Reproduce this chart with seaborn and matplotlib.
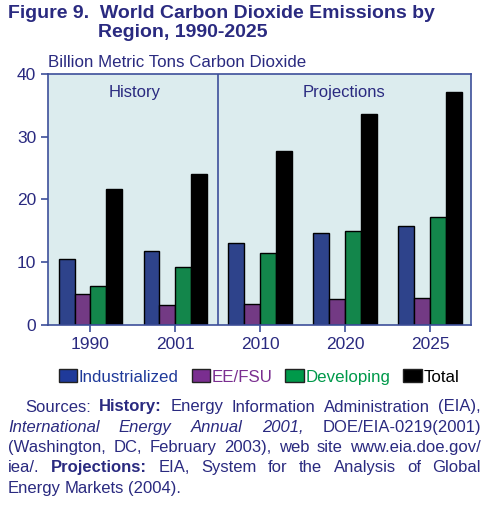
import pandas as pd
import matplotlib
matplotlib.use("Agg")
import matplotlib.pyplot as plt
import seaborn as sns
from matplotlib.patches import Patch

# data (billion metric tons CO2)
years = ["1990", "2001", "2010", "2020", "2025"]
regions = ["Industrialized", "EE/FSU", "Developing", "Total"]
industrialized = [10.5, 11.8, 13.0, 14.6, 15.7]
ee_fsu = [4.9, 3.2, 3.4, 4.1, 4.3]
developing = [6.2, 9.2, 11.4, 15.0, 17.2]
total = [21.6, 24.0, 27.8, 33.6, 37.2]
yticks = [0, 10, 20, 30, 40]

navy = "#2a2a80"
axis_blue = "#3d4f9a"
colors = ["#1f3a9a", "#7a2e90", "#00994a", "#000000"]

df = pd.DataFrame({"year": years * 4,
                   "region": sum([[r] * len(years) for r in regions], []),
                   "value": industrialized + ee_fsu + developing + total})

sns.set_style("white")
plt.rcParams["font.family"] = ["Liberation Sans", "DejaVu Sans"]

fig = plt.figure(figsize=(5.0, 5.13), dpi=100)
ax = fig.add_axes([0.096, 0.3665, 0.846, 0.4893])
ax.set_facecolor("#dcecee")

sns.barplot(data=df, x="year", y="value", hue="region", palette=colors,
            width=0.75, edgecolor="black", linewidth=1, ax=ax, legend=False)

ax.set_xlim(-0.5, 4.48)
ax.set_ylim(0, 40)
ax.set_yticks(yticks)
ax.axvline(1.5, color=axis_blue, lw=1.2)
ax.set_xlabel("")
ax.set_ylabel("")
for s in ax.spines.values():
    s.set_color(axis_blue)
    s.set_linewidth(1.2)
ax.tick_params(axis="both", colors=axis_blue, labelcolor=navy, labelsize=12.5,
               direction="out", length=5, width=1.2, left=True, bottom=True)

ax.text(0.52, 37.0, "History", ha="center", va="center", color=navy, fontsize=12)
ax.text(2.98, 37.0, "Projections", ha="center", va="center", color=navy, fontsize=12)

# title & unit label
fig.text(0.016, 0.974, "Figure 9.  World Carbon Dioxide Emissions by",
         fontsize=14, fontweight="bold", color=navy, va="center")
fig.text(0.196, 0.936, "Region, 1990-2025",
         fontsize=14, fontweight="bold", color=navy, va="center")
fig.text(0.096, 0.879, "Billion Metric Tons Carbon Dioxide",
         fontsize=12.2, color=navy, va="center")

# legend
handles = [Patch(facecolor=c, edgecolor="#222222") for c in colors]
leg = fig.legend(handles, regions, loc="center", bbox_to_anchor=(0.518, 0.265),
                 ncol=4, frameon=False, fontsize=12.2, handlelength=1.1,
                 handleheight=0.75, handletextpad=0.1, columnspacing=0.75)
for t, c in zip(leg.get_texts(), colors):
    t.set_color(c)

# sources, justified lines
renderer = fig.canvas.get_renderer()
W, H = fig.get_size_inches() * fig.dpi


def justify(tokens, x0, x1, y, last=False):
    arts = []
    for word, weight, style in tokens:
        t = fig.text(0, y / H, word, fontsize=12, color=navy, va="center",
                     fontweight=weight, fontstyle=style)
        arts.append(t)
    widths = [a.get_window_extent(renderer).width for a in arts]
    if last or len(arts) == 1:
        gap = 4.0
    else:
        gap = (x1 - x0 - sum(widths)) / (len(arts) - 1)
    x = x0
    for a, w in zip(arts, widths):
        a.set_x(x / W)
        x += w + gap


n, b, i = "normal", "bold", "italic"
lines = [
    (25, [("Sources:", n, n), ("History:", b, n), ("Energy", n, n), ("Information", n, n),
          ("Administration", n, n), ("(EIA),", n, n)]),
    (8, [("International", n, i), ("Energy", n, i), ("Annual", n, i), ("2001,", n, i),
         ("DOE/EIA-0219(2001)", n, n)]),
    (8, [("(Washington,", n, n), ("DC,", n, n), ("February", n, n), ("2003),", n, n),
         ("web", n, n), ("site", n, n), ("www.eia.doe.gov/", n, n)]),
    (8, [("iea/.", n, n), ("Projections:", b, n), ("EIA,", n, n), ("System", n, n),
         ("for", n, n), ("the", n, n), ("Analysis", n, n), ("of", n, n), ("Global", n, n)]),
    (8, [("Energy", n, n), ("Markets", n, n), ("(2004).", n, n)]),
]
for k, (x0, toks) in enumerate(lines):
    justify(toks, x0, 481, H - (407 + 20.3 * k), last=(k == len(lines) - 1))

fig.savefig("out.png", dpi=100)
